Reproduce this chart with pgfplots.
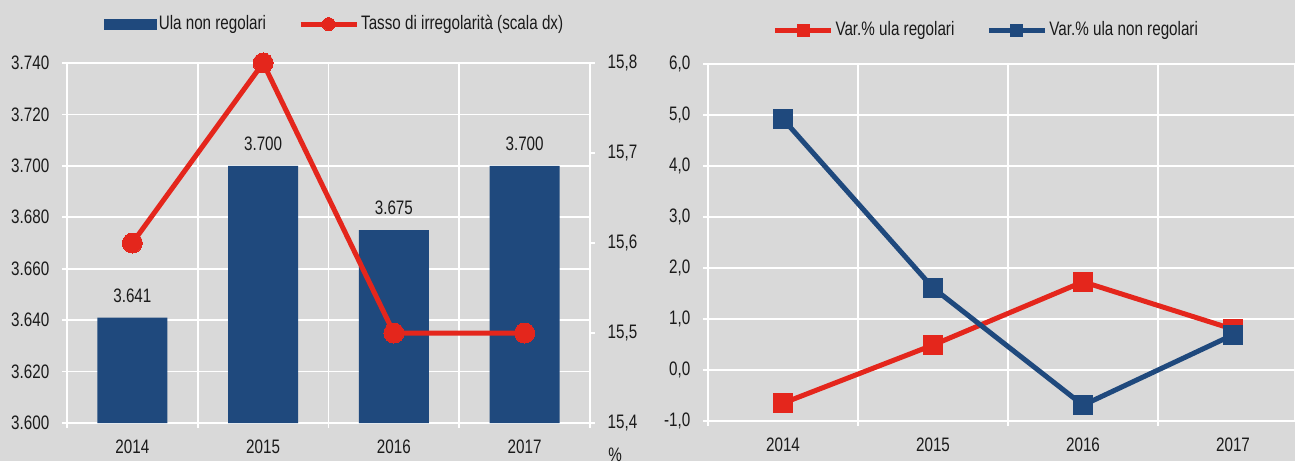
\documentclass[border=0pt]{standalone}
\usepackage{pgfplots}
\pgfplotsset{compat=1.18}
\usepackage{fontspec}
\setmainfont{Liberation Sans}[FakeStretch=0.78]
\definecolor{bg}{HTML}{D9D9D9}
\definecolor{navy}{HTML}{1F497D}
\definecolor{rred}{HTML}{E4261C}
\definecolor{txt}{HTML}{1A1A1A}
\newcommand\myfont{\fontsize{19.5}{23}\selectfont}
\pgfplotsset{
  common/.style={
    scale only axis,
    axis background/.style={fill=none},
    axis line style={white, line width=1.7pt},
    tick label style={font=\myfont, text=txt},
    yticklabel style={xshift=-6pt},
    xticklabel style={yshift=-5pt},
    /pgf/number format/assume math mode=true,
    tick pos=left,
    tick align=outside,
    major tick length=5pt,
    minor tick length=5pt,
    every tick/.style={white, line width=1.7pt},
    grid style={white, line width=1.7pt},
    minor grid style={white, line width=1.7pt},
    legend style={font=\myfont, draw=none, fill=none, inner sep=0pt,
      legend cell align=left, text=txt,
      nodes={inner sep=2pt},
      /tikz/every even column/.append style={column sep=30pt}},
    legend columns=2,
  },
  barleg/.style={legend image code/.code={\fill[navy] (0pt,-5pt) rectangle (52pt,5pt);}},
  lineleg/.style={legend image code/.code={
     \draw[##1, mark repeat=2, mark phase=2] plot coordinates {(0pt,0pt) (28pt,0pt) (56pt,0pt)};}},
}
\begin{document}
\myfont
\begin{tikzpicture}[x=1pt,y=1pt]
\fill[bg] (0,0) rectangle (1295,461);
\useasboundingbox (0,0) rectangle (1295,461);
% ---- left panel: bars
\begin{axis}[common,
  at={(67pt,38pt)}, anchor=south west,
  width=523pt, height=360pt,
  xmin=-0.5, xmax=3.5,
  ymin=3600, ymax=3740,
  ytick={3600,3620,...,3740},
  yticklabel style={/pgf/number format/.cd, fixed, precision=0, 1000 sep={.}},
  xtick={0,1,2,3}, xticklabels={2014,2015,2016,2017},
  major x tick style={draw=none},
  minor xtick={-0.5,0.5,1.5,2.5,3.5},
  xminorgrids, ymajorgrids,
  ybar, bar width=70pt, bar shift=0pt,
  nodes near coords={\pgfmathprintnumber[fixed,precision=0,1000 sep={.}]{\pgfplotspointmeta}},
  every node near coord/.append style={font=\myfont, text=txt, yshift=8.5pt},
]
\addplot[fill=navy, draw=none] coordinates {(0,3641) (1,3700) (2,3675) (3,3700)};
\end{axis}
% ---- left panel: rate (right axis)
\begin{axis}[common,
  at={(67pt,38pt)}, anchor=south west,
  width=523pt, height=360pt,
  xmin=-0.5, xmax=3.5,
  ymin=15.4, ymax=15.8,
  ytick={15.4,15.5,15.6,15.7,15.8},
  yticklabel style={xshift=12pt, /pgf/number format/.cd, fixed, fixed zerofill, precision=1, use comma},
  axis x line=none, axis y line*=right, ytick pos=right,
  clip=false,
  legend style={at={(0.512,1.108)}, anchor=center},
]
\addlegendimage{barleg}
\addlegendentry{Ula non regolari}
\addplot[rred, line width=5pt, mark=*, mark size=10pt, mark options={line width=0pt, fill=rred},
  lineleg, legend image post style={mark size=6.5pt}]
  coordinates {(0,15.6) (1,15.8) (2,15.5) (3,15.5)};
\addlegendentry{Tasso di irregolarità (scala dx)}
\node[font=\myfont, text=txt] at (rel axis cs:1.048,-0.089) {\%};
\end{axis}
% ---- right panel
\begin{axis}[common,
  at={(708pt,40pt)}, anchor=south west,
  width=587pt, height=357pt,
  xmin=-0.5, xmax=3.4133,
  ymin=-1, ymax=6,
  ytick={-1,0,...,6},
  yticklabel style={/pgf/number format/.cd, fixed, fixed zerofill, precision=1, use comma},
  xtick={0,1,2,3}, xticklabels={2014,2015,2016,2017},
  major x tick style={draw=none},
  minor xtick={-0.5,0.5,1.5,2.5,3.5},
  xminorgrids, ymajorgrids,
  legend style={at={(0.474,1.095)}, anchor=center},
]
\addplot[rred, line width=5pt, mark=square*, mark size=9.5pt, mark options={line width=0pt, fill=rred},
  lineleg, legend image post style={mark size=6pt}]
  coordinates {(0,-0.65) (1,0.49) (2,1.73) (3,0.80)};
\addlegendentry{Var.\% ula regolari}
\addplot[navy, line width=5pt, mark=square*, mark size=9.5pt, mark options={line width=0pt, fill=navy},
  lineleg, legend image post style={mark size=6pt}]
  coordinates {(0,4.92) (1,1.61) (2,-0.69) (3,0.69)};
\addlegendentry{Var.\% ula non regolari}
\end{axis}
\end{tikzpicture}
\end{document}
